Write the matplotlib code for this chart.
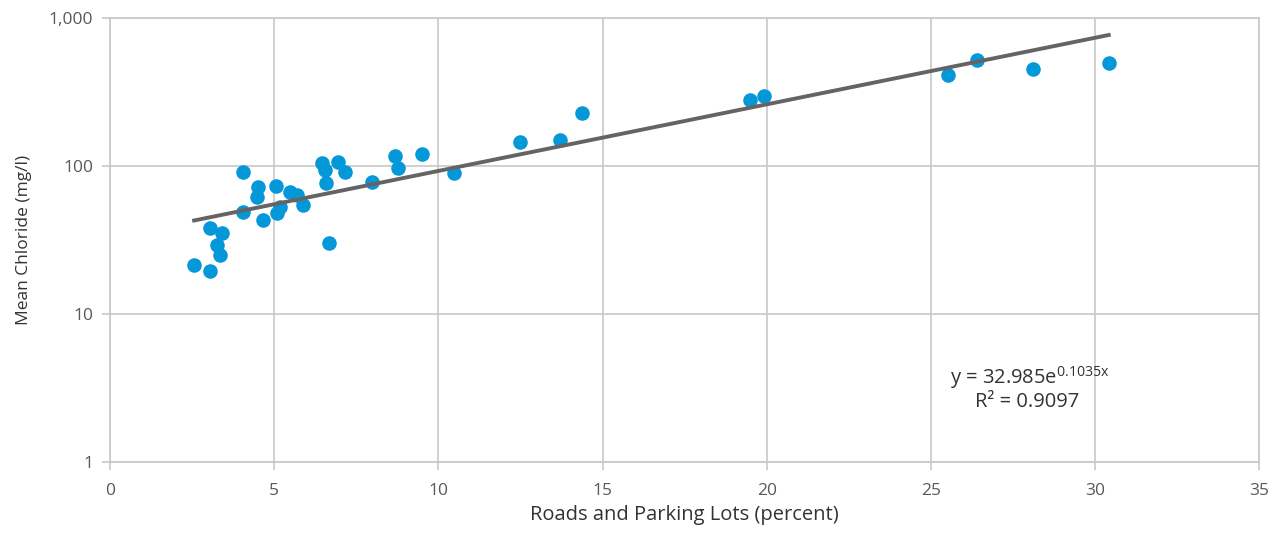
import matplotlib
matplotlib.use("Agg")
import matplotlib.pyplot as plt
import numpy as np
from matplotlib.ticker import FuncFormatter

# roads & parking lots share (percent) vs mean chloride (mg/l)
road_pct = [2.56, 3.05, 3.05, 3.25, 3.40, 3.35, 4.06, 4.06, 4.52, 4.47,
            4.67, 5.06, 5.08, 5.18, 5.48, 5.69, 5.89, 6.45, 6.55, 6.58,
            6.68, 6.95, 7.16, 7.97, 8.68, 8.78, 9.49, 10.46, 12.49, 13.69,
            14.37, 19.49, 19.90, 25.52, 26.40, 28.11, 30.41]
chloride = [21.5, 19.7, 38.1, 29.4, 35.2, 25.1, 91.7, 49.3, 72.7, 62.2,
            43.3, 73.8, 48.5, 53.0, 67.2, 63.9, 54.7, 104.5, 94.2, 76.6,
            30.4, 107.2, 91.7, 78.5, 117.1, 96.7, 120.8, 89.5, 144.9, 150.2,
            229.5, 279.6, 297.5, 412.5, 520.8, 452.7, 494.7]

fit_a, fit_b = 32.985, 0.1035
r_squared = 0.9097

x_ticks = [0, 5, 10, 15, 20, 25, 30, 35]
y_ticks = [1, 10, 100, 1000]

GRID = "#c8c8c8"
TICK_TXT = "#595959"

plt.rcParams["font.family"] = ["Open Sans", "DejaVu Sans"]

fig = plt.figure(figsize=(12.78, 5.34), dpi=100)
ax = fig.add_axes([0.0861, 0.1339, 0.8994, 0.8324])

ax.set_yscale("log")
ax.set_xlim(0, 35)
ax.set_ylim(1, 1000)
ax.set_xticks(x_ticks)
ax.set_yticks(y_ticks)
ax.yaxis.set_minor_locator(matplotlib.ticker.NullLocator())
ax.yaxis.set_major_formatter(FuncFormatter(lambda v, _: f"{v:,.0f}"))

ax.grid(True, color=GRID, linewidth=1.2)
ax.set_axisbelow(True)
for s in ax.spines.values():
    s.set_color(GRID)
    s.set_linewidth(1.2)
ax.tick_params(axis="both", colors=GRID, length=6, width=1.2,
               labelcolor=TICK_TXT, labelsize=12.5)
ax.tick_params(axis="y", pad=6)
ax.tick_params(axis="x", pad=9)

ax.scatter(road_pct, chloride, s=110, color="#0598d8", zorder=3,
           linewidths=0)

# exponential trend line across the data range
xs = np.linspace(min(road_pct), max(road_pct), 200)
ax.plot(xs, fit_a * np.exp(fit_b * xs), color="#646464", linewidth=2.8,
        zorder=4)

ax.text(0.800, 0.192, r"y = 32.985e$^{\mathregular{0.1035x}}$",
        transform=ax.transAxes, ha="center", va="center", fontsize=14.5,
        color="#333333")
ax.text(0.798, 0.136, f"R² = {r_squared}", transform=ax.transAxes,
        ha="center", va="center", fontsize=14.5, color="#333333")

ax.set_xlabel("Roads and Parking Lots (percent)", fontsize=14.5,
              color="#333333", labelpad=4)
ax.set_ylabel("Mean Chloride (mg/l)", fontsize=12.5, color="#333333",
              labelpad=12)

fig.savefig("out.png", dpi=100)
